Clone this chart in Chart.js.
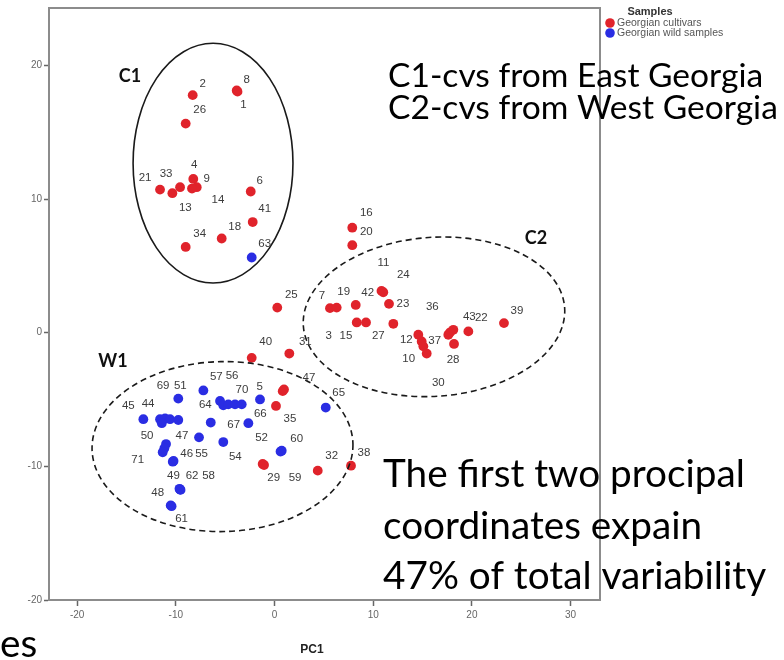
<!DOCTYPE html>
<html>
<head>
<meta charset="utf-8">
<script src="https://cdn.jsdelivr.net/npm/chart.js@4.4.1/dist/chart.umd.min.js"></script>
<style>
  html, body { margin: 0; padding: 0; background: #fff; }
  #wrap { width: 784px; height: 660px; }
</style>
</head>
<body>
<div id="wrap"><canvas id="pcoChart" width="784" height="660"></canvas></div>
<script>
// PC1 / PC2 scores
const cultivarX = [-3.75, -8.29, -3.83, -9.0, -11.6, -10.35, -9.57, -8.23, -7.88, -8.36, -2.41, -2.21, -5.35, -9.0,
    7.88, 7.88, 0.28, 5.62, 6.30, 8.23, 11.02, 10.84, 11.6, 8.33, 9.27, 12.04, 14.57, 14.91, 15.08, 15.42,
    17.61, 18.12, 17.78, 18.19, 19.64, 23.25, 1.5, -2.31, 0.83, 0.96, 0.15, -1.2, -1.06, 4.38, 7.75];
const cultivarY = [18.04, 17.78, 18.13, 15.65, 10.71, 10.44, 10.89, 11.51, 10.89, 10.79, 10.57, 8.28, 7.05, 6.42,
    7.86, 6.55, 1.88, 1.84, 1.88, 2.08, 3.03, 3.13, 2.16, 0.77, 0.77, 0.67, -0.15, -0.65, -1.02, -1.56,
    -0.15, 0.22, 0.02, -0.84, 0.10, 0.72, -1.56, -1.88, -4.37, -4.24, -5.48, -9.82, -9.9, -10.32, -9.95];
const cultivarLabels = ['1', '2', '8', '26', '21', '13', '33', '4', '9', '14', '6', '41', '18', '34',
    '16', '20', '25', '7', '19', '42', '24', '11', '23', '3', '15', '27', '12', '37', '30', '10',
    '36', '43', '', '28', '22', '39', '31', '40', '5', '47', '35', '29', '59', '32', '38'];

const wildX = [-13.29, -11.6, -11.09, -10.59, -9.75, -11.42, -9.75, -7.21, -5.52, -5.19, -4.68, -4.0, -3.32, -1.47,
    -6.46, -2.65, -7.65, -5.19, 0.73, 0.61, -10.99, -11.16, -11.33, -10.31, -10.23, -9.57, -9.63, -9.52,
    -10.52, -10.43, 5.19, -2.31];
const wildY = [-6.47, -6.47, -6.42, -6.47, -6.53, -6.77, -4.93, -4.32, -5.11, -5.43, -5.36, -5.36, -5.36, -4.99,
    -6.72, -6.77, -7.83, -8.18, -8.83, -8.89, -8.33, -8.65, -8.95, -9.65, -9.6, -11.73, -11.68, -11.76,
    -12.92, -12.98, -5.6, 5.63];
const wildLabels = ['45', '44', '69', '', '', '', '51', '57', '56', '64', '', '', '', '70',
    '67', '66', '47', '54', '60', '52', '50', '', '71', '46', '55', '62', '49', '58',
    '48', '61', '65', '63'];

// where each point label sits relative to its dot (px), kept apart from the data
const cultivarLabelShift = [[6, 13], [10, -11], [10, -11], [14, -14], [-15, -12], [13, 15], [-14, -13], [1, -14], [10, -8], [26, 11],
    [9, -11], [12, -13], [13, -12], [14, -13], [14, -15], [14, -13], [14, -13], [-8, -12], [7, -16], [12, -12],
    [20, -17], [2, -28], [14, 0], [-28, 13], [-20, 13], [-15, 12], [-12, 5], [13, -1], [15, 36], [-18, 5],
    [-16, -28], [16, -13], [0, 0], [-1, 16], [13, -14], [13, -12], [16, -12], [14, -16], [-23, -4], [25, -12],
    [14, 13], [11, 14], [31, 13], [14, -15], [13, -13]];
const wildLabelShift = [[-15, -13], [-12, -15], [-2, -33], [0, 0], [0, 0], [0, 0], [2, -13], [13, -14], [12, -25], [-18, 0],
    [0, 0], [0, 0], [0, 0], [-18, -10], [23, 2], [12, -9], [-17, -2], [12, 15], [15, -12], [-19, -14],
    [-19, -8], [0, 0], [-25, 7], [14, -8], [28, -7], [12, -14], [-6, -13], [28, -14], [-13, -13], [10, 13],
    [13, -15], [13, -14]];

const xTicks = [-20, -10, 0, 10, 20, 30];
const yTicks = [-20, -10, 0, 10, 20];

// group ellipses in data units
const groupNames = ['C1', 'C2', 'W1'];
const groupCx = [-6.23, 16.16, -5.27];
const groupCy = [12.69, 1.19, -8.52];
const groupRx = [8.1, 13.27, 13.22];
const groupRy = [8.97, 5.95, 6.36];
const groupNameX = [-14.64, 26.5, -16.36];
const groupNameY = [19.2, 7.07, -2.16];

const RED = '#e0232b';
const BLUE = '#2a2de3';

function toPoints(xs, ys) {
    return xs.map((x, i) => ({ x: x, y: ys[i] }));
}

function fitSize(ctx, text, family, weight, targetWidth) {
    ctx.font = `${weight} 100px ${family}`;
    return 100 * targetWidth / ctx.measureText(text).width;
}

const decorPlugin = {
    id: 'decor',
    afterDatasetsDraw(chart) {
        const { ctx, chartArea, scales } = chart;
        const xs = scales.x, ys = scales.y;
        ctx.save();

        // frame
        ctx.strokeStyle = '#8c8c8c';
        ctx.lineWidth = 2;
        ctx.strokeRect(chartArea.left, chartArea.top, chartArea.right - chartArea.left, chartArea.bottom - chartArea.top);

        // group ellipses
        const tilt = [0, -0.07, -0.02];
        groupNames.forEach((name, i) => {
            const cx = xs.getPixelForValue(groupCx[i]);
            const cy = ys.getPixelForValue(groupCy[i]);
            const rx = Math.abs(xs.getPixelForValue(groupCx[i] + groupRx[i]) - cx);
            const ry = Math.abs(ys.getPixelForValue(groupCy[i] + groupRy[i]) - cy);
            ctx.beginPath();
            ctx.setLineDash(i === 0 ? [] : [6, 4]);
            ctx.lineWidth = 1.6;
            ctx.strokeStyle = '#1a1a1a';
            ctx.ellipse(cx, cy, rx, ry, tilt[i], 0, Math.PI * 2);
            ctx.stroke();

            ctx.fillStyle = '#111';
            ctx.font = 'bold 18px Lato';
            ctx.textAlign = 'center';
            ctx.textBaseline = 'middle';
            ctx.fillText(name, xs.getPixelForValue(groupNameX[i]), ys.getPixelForValue(groupNameY[i]));
        });
        ctx.setLineDash([]);

        // point labels
        ctx.font = '11.5px "Liberation Sans"';
        ctx.fillStyle = '#3c3c3c';
        ctx.textAlign = 'center';
        ctx.textBaseline = 'middle';
        const sets = [[cultivarLabels, cultivarLabelShift], [wildLabels, wildLabelShift]];
        sets.forEach(([labels, shift], di) => {
            const meta = chart.getDatasetMeta(di);
            meta.data.forEach((pt, j) => {
                if (!labels[j]) return;
                ctx.fillText(labels[j], pt.x + shift[j][0], pt.y + shift[j][1]);
            });
        });
        ctx.restore();
    },
    afterDraw(chart) {
        const ctx = chart.ctx;
        ctx.save();

        // legend
        ctx.fillStyle = '#333';
        ctx.font = 'bold 11px "Liberation Sans"';
        ctx.textAlign = 'center';
        ctx.textBaseline = 'middle';
        ctx.fillText('Samples', 650, 12);
        ctx.font = '10.5px "Liberation Sans"';
        ctx.textAlign = 'left';
        [[RED, 'Georgian cultivars', 23], [BLUE, 'Georgian wild samples', 33]].forEach(([c, t, yy]) => {
            ctx.fillStyle = c;
            ctx.beginPath();
            ctx.arc(610, yy, 4.8, 0, Math.PI * 2);
            ctx.fill();
            ctx.fillStyle = '#555';
            ctx.fillText(t, 617, yy);
        });

        // axis title
        ctx.fillStyle = '#222';
        ctx.font = 'bold 12px "Liberation Sans"';
        ctx.textAlign = 'center';
        ctx.fillText('PC1', 312, 650);

        // notes written over the figure
        ctx.fillStyle = '#000';
        ctx.textAlign = 'left';
        ctx.textBaseline = 'middle';
        const topSize = fitSize(ctx, 'C2-cvs from West Georgia', 'Lato', 'normal', 390);
        ctx.font = `${topSize}px Lato`;
        ctx.fillText('C1-cvs from East Georgia', 388, 76);
        ctx.fillText('C2-cvs from West Georgia', 388, 108);

        const lowSize = fitSize(ctx, 'The first two procipal', 'Lato', 'normal', 362);
        ctx.font = `${lowSize}px Lato`;
        ctx.fillText('The first two procipal', 383, 475);
        ctx.fillText('coordinates expain', 383, 527);
        ctx.fillText('47% of total variability', 383, 577);
        ctx.fillText('es', 0, 645);
        ctx.restore();
    }
};

new Chart(document.getElementById('pcoChart'), {
    type: 'scatter',
    data: {
        datasets: [
            { label: 'Georgian cultivars', data: toPoints(cultivarX, cultivarY), backgroundColor: RED, borderWidth: 0, pointRadius: 4.9 },
            { label: 'Georgian wild samples', data: toPoints(wildX, wildY), backgroundColor: BLUE, borderWidth: 0, pointRadius: 4.9 }
        ]
    },
    options: {
        responsive: false,
        animation: false,
        devicePixelRatio: 1,
        layout: { padding: { top: 5, right: 184, left: 0, bottom: 0 } },
        plugins: { legend: { display: false }, tooltip: { enabled: false } },
        scales: {
            x: {
                type: 'linear',
                min: -22.85,
                max: 32.98,
                afterBuildTicks: s => { s.ticks = xTicks.map(v => ({ value: v })); },
                afterFit: s => { s.height = 60; },
                grid: { drawOnChartArea: false, drawTicks: true, tickLength: 6, tickWidth: 1.5, color: '#666' },
                border: { color: '#777', width: 1.5 },
                ticks: { font: { family: 'Liberation Sans', size: 10 }, color: '#666', padding: 3 }
            },
            y: {
                type: 'linear',
                min: -20,
                max: 24.3,
                afterBuildTicks: s => { s.ticks = yTicks.map(v => ({ value: v })); },
                afterFit: s => { s.width = 49; },
                grid: { drawOnChartArea: false, drawTicks: true, tickLength: 5, tickWidth: 1.5, color: '#666' },
                border: { color: '#777', width: 1.5 },
                ticks: { font: { family: 'Liberation Sans', size: 10 }, color: '#666', padding: 2 }
            }
        }
    },
    plugins: [decorPlugin]
});
</script>
</body>
</html>
